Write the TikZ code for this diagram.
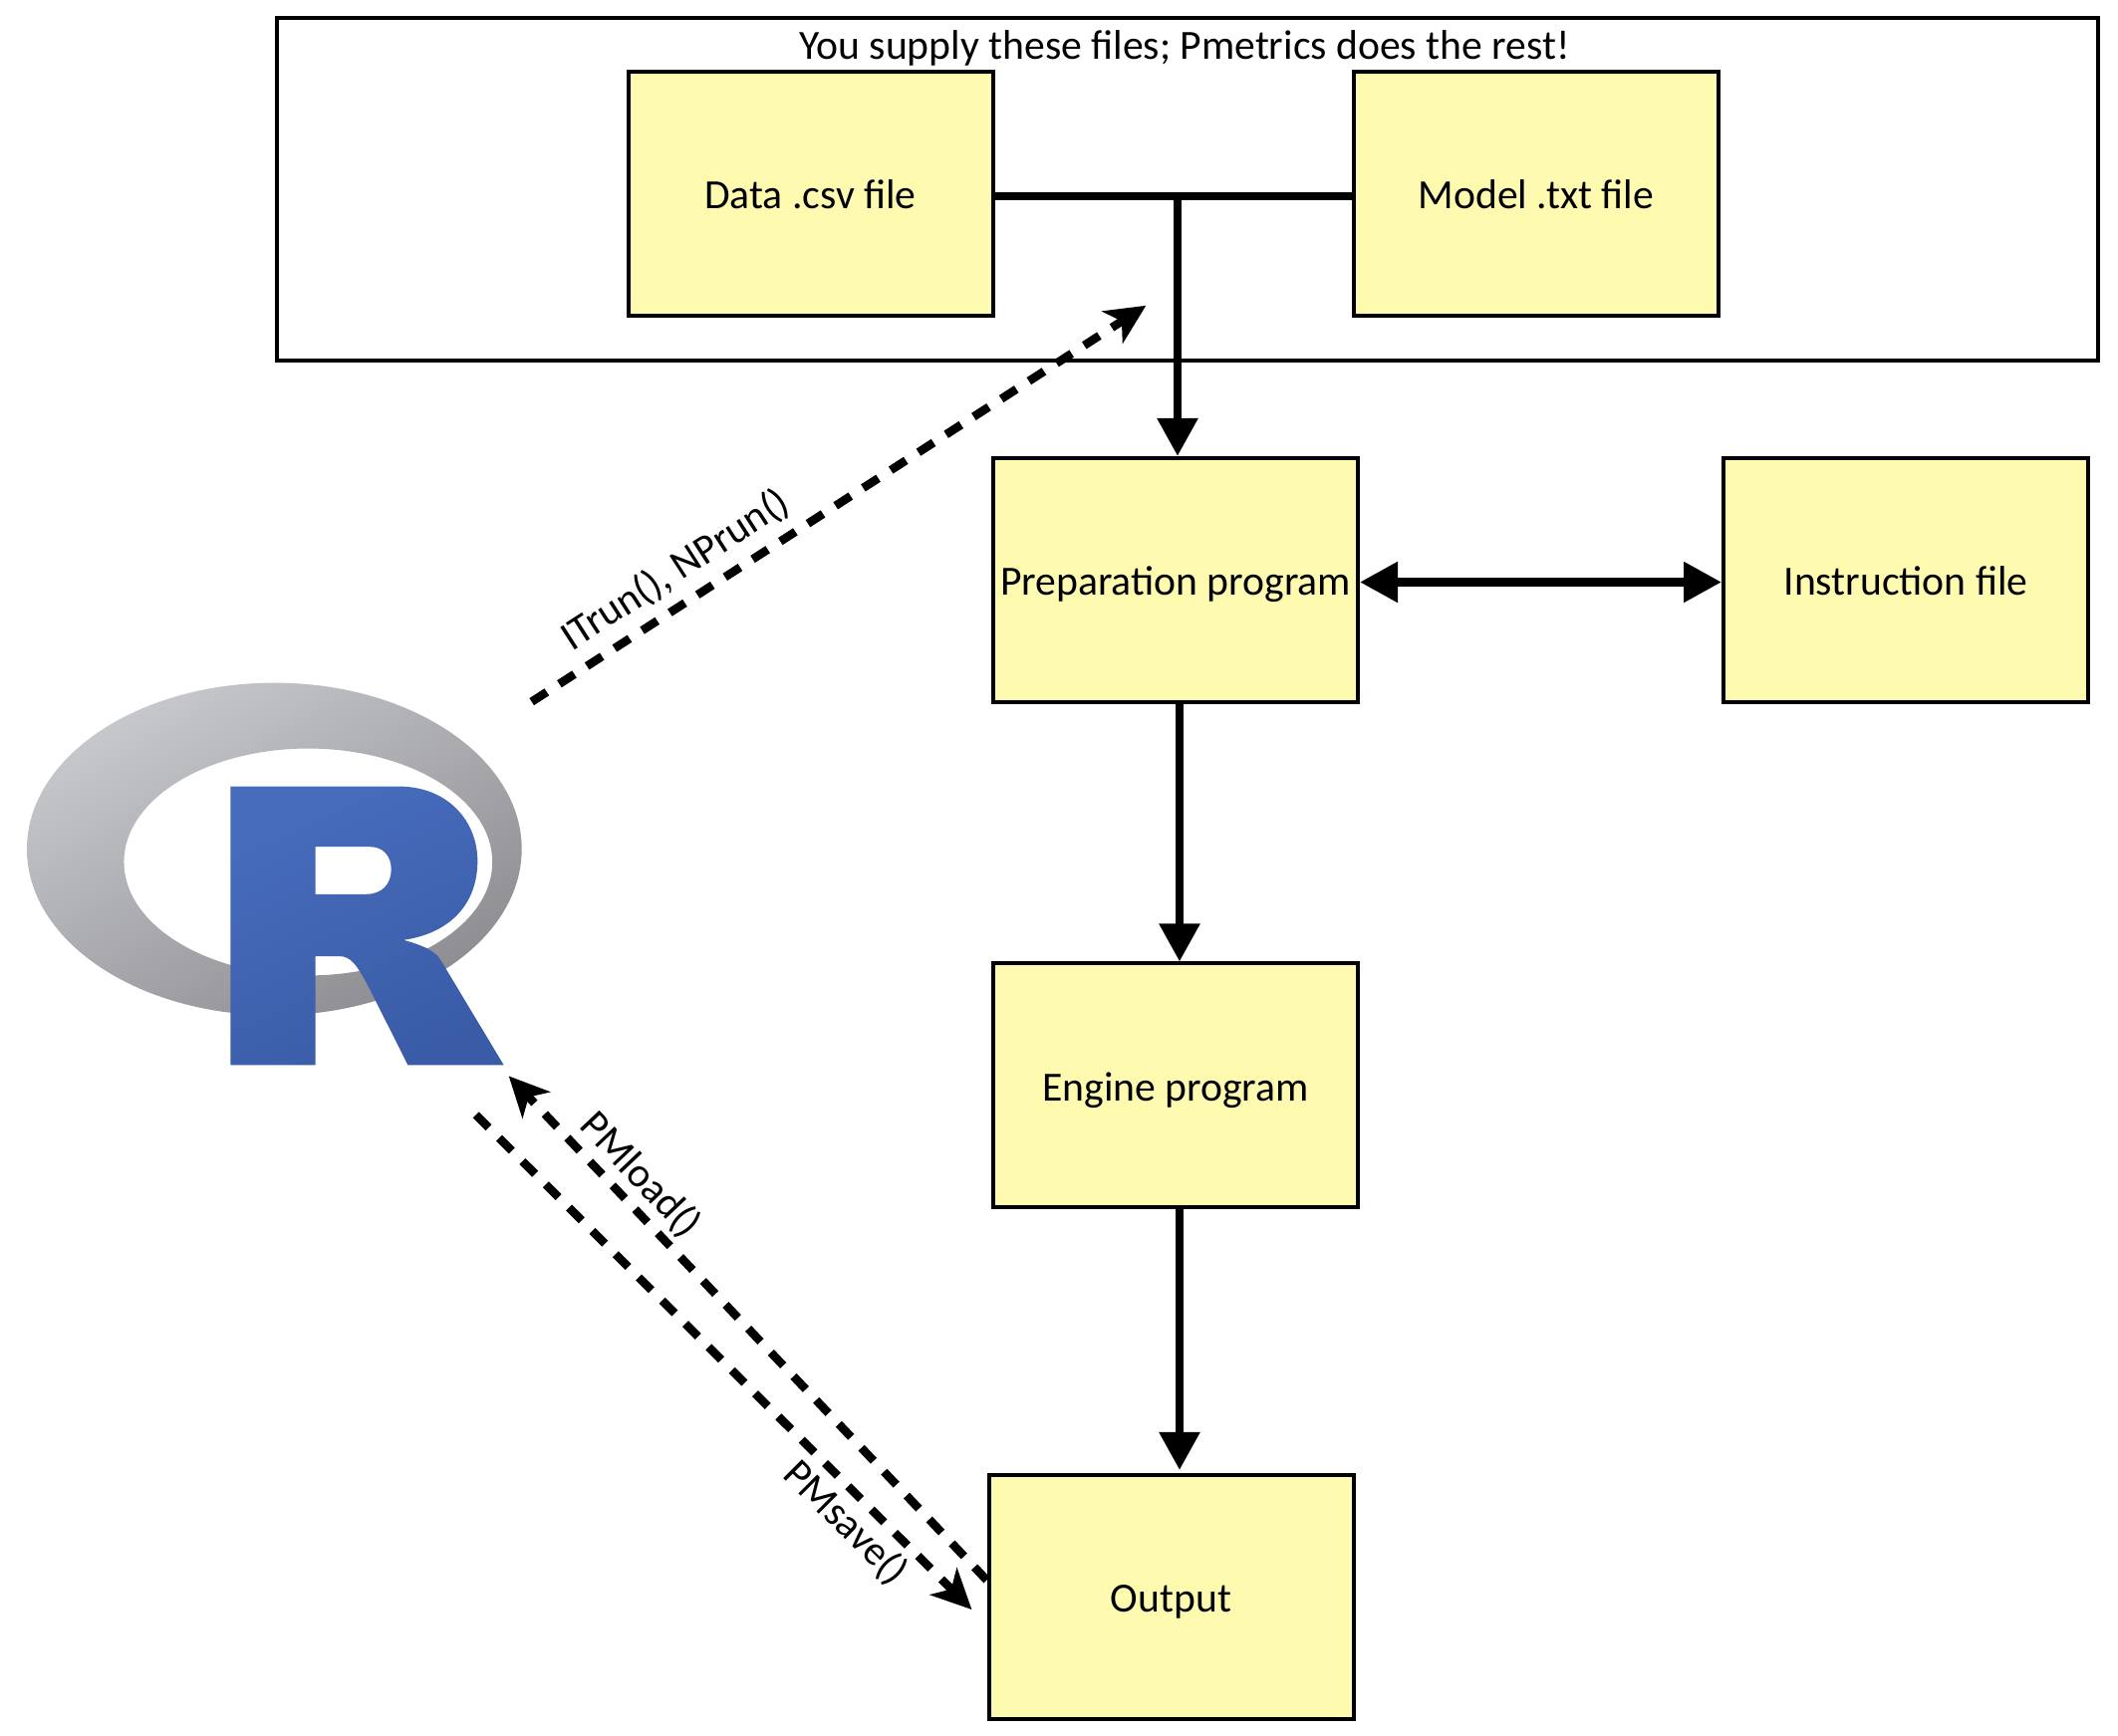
\documentclass[tikz,border=0pt]{standalone}
\usepackage{fontspec}
\usepackage{xcolor}
\setmainfont{Carlito}
\usetikzlibrary{arrows.meta, positioning}
\definecolor{boxyellow}{RGB}{254,251,176}
\definecolor{ringlight}{RGB}{198,200,204}
\definecolor{ringdark}{RGB}{142,141,146}
\definecolor{rlight}{RGB}{71,108,188}
\definecolor{rdark}{RGB}{58,92,167}
\begin{document}
\begin{tikzpicture}[
  font=\fontsize{11.85}{14}\selectfont,
  filebox/.style={rectangle, draw=black, line width=0.04cm, fill=boxyellow, inner xsep=0pt,
    minimum width=3.66cm, minimum height=2.45cm, align=center,
    text height=11pt, text depth=2.4pt},
  groupbox/.style={rectangle, draw=black, line width=0.04cm,
    minimum width=18.28cm, minimum height=3.44cm},
  flow/.style={draw=black, line width=0.085cm},
  arr/.style={flow, -{Triangle[length=3.8mm, width=3.9mm]}},
  biarr/.style={flow, {Triangle[length=3.8mm, width=3.9mm]}-{Triangle[length=3.8mm, width=3.9mm]}},
  callarr/.style={draw=black, line width=0.085cm, dash pattern=on 0.18cm off 0.15cm,
    -{Stealth[length=4mm, width=3.8mm, inset=1.1mm]}},
  lbl/.style={sloped, inner sep=3pt}
]
\useasboundingbox (0,0) rectangle (21.26,17.43);
\node[groupbox] (supply) at (11.92,15.53) {};
\node[inner sep=0pt] (supplytitle) at (11.89,16.95) {You supply these files; Pmetrics does the rest!};
\node[filebox] (data) at (8.135,15.485) {Data .csv file};
\node[filebox] (model) at (15.42,15.485) {Model .txt file};
\node[filebox] (prep) at (11.8,11.605) {Preparation program};
\node[filebox] (instr) at (19.13,11.605) {Instruction file};
\node[filebox] (engine) at (11.8,6.53) {Engine program};
\node[filebox] (output) at (11.755,1.395) {Output};
\begin{scope}[shift={(0,17.43)}, x=0.01cm, y=-0.01cm]
  \shade[even odd rule, top color=ringlight, bottom color=ringdark, shading angle=30]
    (275.5,853) ellipse [x radius=248.5, y radius=167]
    (309.5,866) ellipse [x radius=185, y radius=114];
  \shade[even odd rule, top color=rlight, bottom color=rdark, shading angle=25]
    (231.4,790) -- (400,790) .. controls (450,790) and (479.6,825) .. (479.6,865)
    .. controls (479.6,910) and (450,938) .. (405.4,944.3)
    .. controls (425,950) and (437,955) .. (442.9,965)
    -- (506,1070) -- (409.6,1070) -- (372,995)
    .. controls (358,968) and (352,960.7) .. (341,960.7)
    -- (316.8,960.7) -- (316.8,1070) -- (231.4,1070) -- cycle
    (316.8,850.7) -- (371.4,850.7) .. controls (385,850.7) and (392.9,860) .. (392.9,873.3)
    .. controls (392.9,888) and (384,898.3) .. (367.9,898.3) -- (316.8,898.3) -- cycle;
  \coordinate (runstart) at (534,705);
  \coordinate (runend) at (1151,307);
  \coordinate (loadend) at (511,1081);
  \coordinate (savestart) at (478,1120);
  \coordinate (saveend) at (976,1617);
\end{scope}
\coordinate (join) at (11.82,15.46);
\draw[flow] (data.east |- join) -- (model.west |- join);
\draw[arr] (join) -- (join |- prep.north);
\draw[biarr] ([yshift=-0.02cm]prep.east) -- ([yshift=-0.02cm]instr.west);
\draw[arr] ([xshift=0.04cm]prep.south) -- ([xshift=0.04cm]engine.north);
\draw[arr] ([xshift=0.04cm]engine.south) -- ([xshift=0.04cm,yshift=0.03cm]engine.south |- output.north);
\draw[callarr] (runstart) -- node[lbl, above, pos=0.263] {ITrun(), NPrun()} (runend);
\draw[callarr] ([yshift=0.17cm]output.west) -- node[lbl, above, inner sep=1.5pt, pos=0.766] {PMload()} (loadend);
\draw[callarr] (savestart) -- node[lbl, below, inner sep=1.5pt, pos=0.785] {PMsave()} (saveend);
\end{tikzpicture}
\end{document}
